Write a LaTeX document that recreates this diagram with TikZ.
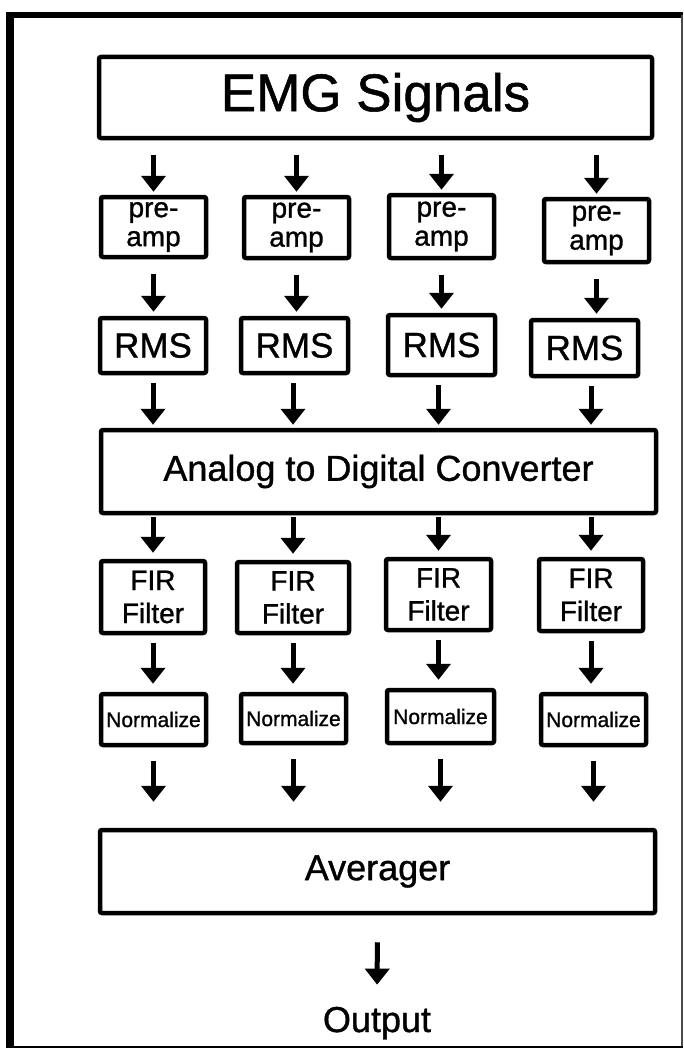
\documentclass[tikz,border=0pt]{standalone}
\usepackage{fontspec}
\setmainfont[FakeBold=1]{Liberation Sans}
\usetikzlibrary{arrows.meta}

\begin{document}
\begin{tikzpicture}[x=1pt,y=-1pt,
    blk/.style={draw, line width=4.5pt, rounded corners=2pt, inner sep=0pt, align=center},
    arr/.style={-{Triangle[width=24pt,length=16pt]}, line width=5pt}]
            \useasboundingbox (0,0) rectangle (683,1049);

            % outer frame
            \draw[line width=8pt] (10,1047) -- (10,15);
            \draw[line width=6pt] (6,15) -- (683,15);
            \draw[line width=1.5pt, black!70] (682,15) -- (682,1047);
            \draw[line width=2pt] (6,1047) -- (683,1047);

            \node[blk, minimum width=553pt, minimum height=81pt, font=\fontsize{53}{56}\selectfont] (emg) at (375.5,97.5) {EMG Signals};

            % pre-amp
            \node[blk, minimum width=105pt, minimum height=60pt, font=\fontsize{28}{29}\selectfont] (pa1) at (153.5,227) {pre-\\amp};
            \node[blk, minimum width=105pt, minimum height=61pt, font=\fontsize{28}{29}\selectfont] (pa2) at (296.5,227.5) {pre-\\amp};
            \node[blk, minimum width=105pt, minimum height=63pt, font=\fontsize{28}{29}\selectfont] (pa3) at (441.5,226.5) {pre-\\amp};
            \node[blk, minimum width=105pt, minimum height=63pt, font=\fontsize{28}{29}\selectfont] (pa4) at (596.5,230.5) {pre-\\amp};

            % RMS
            \node[blk, minimum width=106pt, minimum height=55pt, font=\fontsize{35}{38}\selectfont] (rms1) at (153,345.5) {RMS};
            \node[blk, minimum width=107pt, minimum height=55pt, font=\fontsize{35}{38}\selectfont] (rms2) at (294.5,345.5) {RMS};
            \node[blk, minimum width=107pt, minimum height=60pt, font=\fontsize{35}{38}\selectfont] (rms3) at (441.5,345) {RMS};
            \node[blk, minimum width=107pt, minimum height=56pt, font=\fontsize{35}{38}\selectfont] (rms4) at (584.5,348) {RMS};

            \node[blk, minimum width=555pt, minimum height=83pt, font=\fontsize{36}{40}\selectfont] (adc) at (378.5,471.5) {Analog to Digital Converter};

            % FIR
            \node[blk, minimum width=104pt, minimum height=72pt, font=\fontsize{28}{33}\selectfont] (fir1) at (153,597) {FIR\\Filter};
            \node[blk, minimum width=112pt, minimum height=71pt, font=\fontsize{28}{33}\selectfont] (fir2) at (293,597.5) {FIR\\Filter};
            \node[blk, minimum width=105pt, minimum height=71pt, font=\fontsize{28}{33}\selectfont] (fir3) at (438.5,594.5) {FIR\\Filter};
            \node[blk, minimum width=104pt, minimum height=72pt, font=\fontsize{28}{33}\selectfont] (fir4) at (591,595) {FIR\\Filter};

            % normalize
            \node[blk, minimum width=105pt, minimum height=51pt, font=\fontsize{21}{24}\selectfont] (nrm1) at (153.5,719.5) {Normalize};
            \node[blk, minimum width=105pt, minimum height=49pt, font=\fontsize{21}{24}\selectfont] (nrm2) at (293.5,718.5) {Normalize};
            \node[blk, minimum width=107pt, minimum height=53pt, font=\fontsize{21}{24}\selectfont] (nrm3) at (440.5,716.5) {Normalize};
            \node[blk, minimum width=105pt, minimum height=51pt, font=\fontsize{21}{24}\selectfont] (nrm4) at (593.5,719.5) {Normalize};

            \node[blk, minimum width=555pt, minimum height=83pt, font=\fontsize{36}{40}\selectfont] (avg) at (377.5,871.5) {Averager};
            \node[inner sep=0pt, anchor=base, font=\fontsize{36}{40}\selectfont] (out) at (377,1032) {Output};

            % arrows
            \draw[arr, shorten <=15pt, shorten >=3pt] (emg.south -| pa1) -- (pa1.north);
            \draw[arr, shorten <=15pt, shorten >=3pt] (emg.south -| pa2) -- (pa2.north);
            \draw[arr, shorten <=15pt, shorten >=3pt] (emg.south -| pa3) -- (pa3.north);
            \draw[arr, shorten <=15pt, shorten >=3pt] (emg.south -| pa4) -- (pa4.north);

            \draw[arr, shorten <=15pt, shorten >=4pt] (pa1.south) -- (pa1.south |- rms1.north);
            \draw[arr, shorten <=15pt, shorten >=4pt] (pa2.south) -- (pa2.south |- rms2.north);
            \draw[arr, shorten <=15pt, shorten >=4pt] (pa3.south) -- (pa3.south |- rms3.north);
            \draw[arr, shorten <=15pt, shorten >=4pt] (pa4.south) -- (pa4.south |- rms4.north);

            \draw[arr, shorten <=8pt, shorten >=3pt] (rms1.south -| fir1) -- (adc.north -| fir1);
            \draw[arr, shorten <=8pt, shorten >=3pt] (rms2.south -| fir2) -- (adc.north -| fir2);
            \draw[arr, shorten <=8pt, shorten >=3pt] (rms3.south -| fir3) -- (adc.north -| fir3);
            \draw[arr, shorten <=8pt, shorten >=3pt] (rms4.south -| fir4) -- (adc.north -| fir4);

            \draw[arr, shorten <=2pt, shorten >=6pt] (adc.south -| fir1) -- (fir1.north);
            \draw[arr, shorten <=2pt, shorten >=6pt] (adc.south -| fir2) -- (fir2.north);
            \draw[arr, shorten <=2pt, shorten >=6pt] (adc.south -| fir3) -- (fir3.north);
            \draw[arr, shorten <=2pt, shorten >=6pt] (adc.south -| fir4) -- (fir4.north);

            \draw[arr, shorten <=8pt, shorten >=8pt] (fir1.south) -- (fir1.south |- nrm1.north);
            \draw[arr, shorten <=8pt, shorten >=8pt] (fir2.south) -- (fir2.south |- nrm2.north);
            \draw[arr, shorten <=8pt, shorten >=8pt] (fir3.south) -- (fir3.south |- nrm3.north);
            \draw[arr, shorten <=8pt, shorten >=8pt] (fir4.south) -- (fir4.south |- nrm4.north);

            \draw[arr, shorten <=14pt, shorten >=26pt] (nrm1.south) -- (nrm1.south |- avg.north);
            \draw[arr, shorten <=14pt, shorten >=26pt] (nrm2.south) -- (nrm2.south |- avg.north);
            \draw[arr, shorten <=14pt, shorten >=26pt] (nrm3.south) -- (nrm3.south |- avg.north);
            \draw[arr, shorten <=14pt, shorten >=26pt] (nrm4.south) -- (nrm4.south |- avg.north);

            \draw[arr, shorten <=27pt, shorten >=22pt] (avg.south) -- (out.north);
\end{tikzpicture}
\end{document}
